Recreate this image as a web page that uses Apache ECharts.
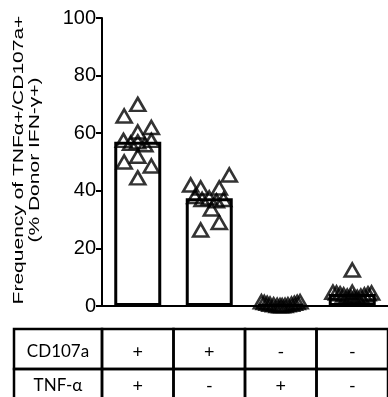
<!DOCTYPE html>
<html><head><meta charset="utf-8">
<script src="https://cdn.jsdelivr.net/npm/echarts@6/dist/echarts.min.js"></script>
<style>html,body{margin:0;padding:0;background:#fff}#c{width:388px;height:397px}</style>
</head><body><div id="c"></div>
<script>
// ---- data ----
var categories = ['CD107a+ TNF-α+', 'CD107a+ TNF-α-', 'CD107a- TNF-α+', 'CD107a- TNF-α-'];
var barMeans = [57, 37.4, 0.5, 4.2];
var yTicks = [0, 20, 40, 60, 80, 100];
var g1Values = [70, 66, 62, 60.4, 57.5, 56.5, 57, 56, 57.5, 52, 50, 48.6, 44.5];
var g1Jitter = [0, -0.19, 0.19, 0, -0.2, -0.1, 0, 0.1, 0.19, 0, -0.19, 0.19, 0];
var g2Values = [45.5, 42, 41, 41, 38, 37, 37.5, 36.5, 37, 33.7, 29, 26.4];
var g2Jitter = [0.28, -0.26, -0.12, 0.14, -0.2, -0.1, 0, 0.1, 0.2, 0.03, 0.14, -0.12];
var g3Values = [1.5, 1.2, 0.9, 0.6, 0.4, 0.2, 0.1, 0.1, 0.2, 0.4, 0.6, 0.9, 1.2, 1.5];
var g3Jitter = [-0.27, -0.23, -0.19, -0.15, -0.1, -0.05, -0.01, 0.02, 0.06, 0.1, 0.15, 0.19, 0.23, 0.27];
var g4Values = [12.5, 4.8, 4.5, 4.2, 3.8, 3.4, 3.0, 2.8, 3.0, 3.4, 3.8, 4.2, 4.5, 4.8];
var g4Jitter = [0, -0.27, -0.22, -0.17, -0.12, -0.07, -0.02, 0.02, 0.07, 0.12, 0.17, 0.22, 0.27, 0];
var tableRowLabels = ['CD107a', 'TNF-α'];
var cd107aRow = ['+', '+', '-', '-'];
var tnfRow = ['+', '-', '+', '-'];
var yAxisTitle = 'Frequency of TNFα+/CD107a+\n(% Donor IFN-γ+)';

// ---- build ----
var groups = [[g1Values, g1Jitter], [g2Values, g2Jitter], [g3Values, g3Jitter], [g4Values, g4Jitter]];
var pts = [];
groups.forEach(function (g, gi) {
  g[0].forEach(function (v, i) { pts.push([gi + g[1][i], v]); });
});

var chart = echarts.init(document.getElementById('c'), null, {renderer: 'canvas'});
var font = 'Liberation Sans, Arial, sans-serif';
chart.setOption({
  animation: false,
  grid: {left: 102, right: -2, top: 18, bottom: 91, containLabel: false},
  xAxis: [{
    type: 'category', data: categories, boundaryGap: true,
    axisLine: {onZero: false, lineStyle: {color: '#000', width: 2}},
    axisTick: {alignWithLabel: true, length: 14, lineStyle: {color: '#000', width: 2}},
    axisLabel: {show: false}, splitLine: {show: false}
  }, {
    type: 'value', min: -0.5, max: 3.5, show: false
  }],
  yAxis: {
    type: 'value', min: 0, max: 100, interval: 20,
    axisLine: {show: true, onZero: false, lineStyle: {color: '#000', width: 2}},
    axisTick: {show: true, length: 6, lineStyle: {color: '#000', width: 2}},
    axisLabel: {color: '#000', fontSize: 20, fontFamily: font, margin: 6,
      formatter: function (v) { return yTicks.indexOf(v) >= 0 ? String(v) : ''; }},
    splitLine: {show: false}
  },
  series: [{
    type: 'bar', xAxisIndex: 0, data: barMeans, barWidth: 47,
    itemStyle: {color: '#fff', borderColor: '#000', borderWidth: 3}
  }, {
    type: 'scatter', xAxisIndex: 1, data: pts, symbol: 'triangle', symbolSize: [15, 13],
    itemStyle: {color: 'rgba(255,255,255,0)', borderColor: '#000', borderWidth: 2.6}
  }]
});

// y-axis title (rotated, stretched along its length like the reference)
var els = [];
els.push({type: 'text', x: 27, y: 160, rotation: Math.PI / 2, scaleX: 1.5, scaleY: 1.05,
  style: {text: yAxisTitle, fill: '#000', font: '14px ' + font, align: 'center', verticalAlign: 'middle', lineHeight: 16}});

// table aligned to category bands
var tfont = 'Lato, "Open Sans", sans-serif';
var x0 = chart.convertToPixel({xAxisIndex: 0}, 0);
var x1 = chart.convertToPixel({xAxisIndex: 0}, 1);
var band = x1 - x0;
var left0 = x0 - band / 2;
var tLeft = 14;
var rowTops = [329, 369];
var rowHs = [40, 34];
var rows = [cd107aRow, tnfRow];
for (var r = 0; r < 2; r++) {
  var yTop = rowTops[r], h = rowHs[r];
  var ty = r === 0 ? yTop + 23 : yTop + 17;
  els.push({type: 'rect', shape: {x: tLeft, y: yTop, width: left0 - tLeft, height: h},
    style: {fill: 'none', stroke: '#000', lineWidth: 2.5}});
  els.push({type: 'text', x: (tLeft + left0) / 2, y: ty,
    style: {text: tableRowLabels[r], fill: '#000', font: '17px ' + tfont, align: 'center', verticalAlign: 'middle'}});
  for (var c = 0; c < 4; c++) {
    var cx = chart.convertToPixel({xAxisIndex: 0}, c);
    els.push({type: 'rect', shape: {x: cx - band / 2, y: yTop, width: band, height: h},
      style: {fill: 'none', stroke: '#000', lineWidth: 2.5}});
    els.push({type: 'text', x: cx, y: ty,
      style: {text: rows[r][c], fill: '#000', font: '18px ' + tfont, align: 'center', verticalAlign: 'middle'}});
  }
}
chart.setOption({graphic: {elements: els}});
</script></body></html>
